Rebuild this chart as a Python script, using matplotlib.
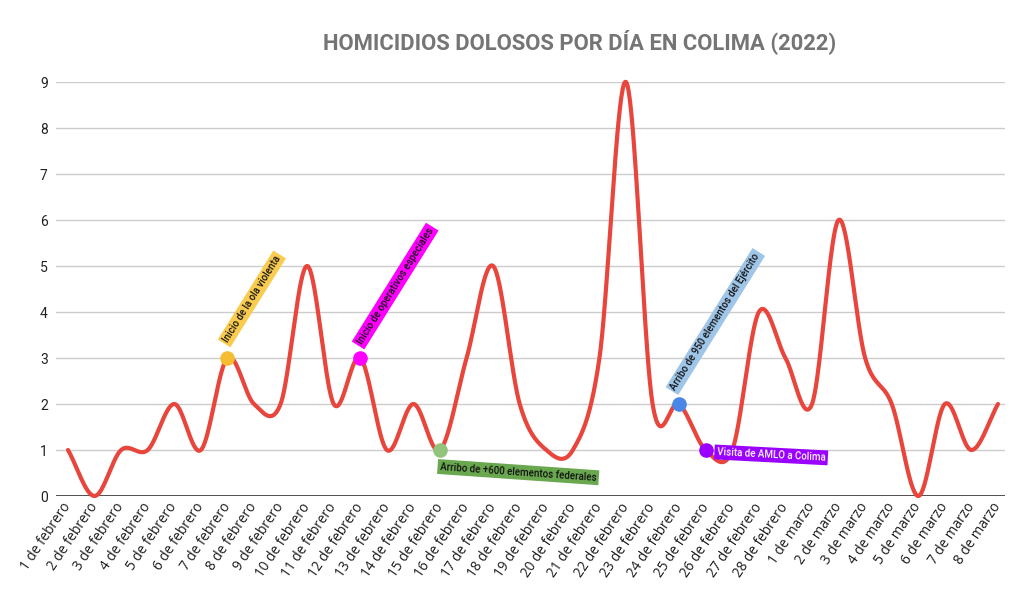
import numpy as np
import matplotlib
matplotlib.use("Agg")
import matplotlib.pyplot as plt
import matplotlib.transforms as mtransforms

plt.rcParams['font.family'] = ['Roboto', 'DejaVu Sans']

# ---- data ----
dates = ([f"{d} de febrero" for d in range(1, 29)] +
         [f"{d} de marzo" for d in range(1, 9)])
homicidios = [1, 0, 1, 1, 2, 1, 3, 2, 2, 5, 2, 3, 1, 2, 1, 3, 5, 2,
              1, 1, 3, 9, 2, 2, 1, 1, 4, 3, 2, 6, 3, 2, 0, 2, 1, 2]
yticks = list(range(0, 10))
title = "HOMICIDIOS DOLOSOS POR DÍA EN COLIMA (2022)"

event_labels = ["Inicio de la ola violenta",
                "Inicio de operativos especiales",
                "Arribo de +600 elementos federales",
                "Arribo de 950 elementos del Ejército",
                "Visita de AMLO a Colima"]
event_dates = ["7 de febrero", "12 de febrero", "15 de febrero",
               "24 de febrero", "25 de febrero"]
event_dot_colors = ["#f6bd33", "#ff00ff", "#93c47d", "#4a86e8", "#9900ff"]
event_box_colors = ["#f9cb4f", "#ff00ff", "#6aa84f", "#9fc5e8", "#9900ff"]
event_text_colors = ["#111111", "#111111", "#111111", "#111111", "#ffffff"]
event_rot = [58, 58, -4, 58, -3]
event_offsets = [(-1.5, 12), (-0.7, 10.5), (0, -12), (-4.3, 10.8), (8, -1.5)]


def catmull_rom(y, n=40):
    y = np.asarray(y, float)
    N = len(y)
    m = np.zeros(N)
    m[1:-1] = (y[2:] - y[:-2]) / 2.0
    m[0] = y[1] - y[0]
    m[-1] = y[-1] - y[-2]
    xs, ys = [], []
    for i in range(N - 1):
        t = np.linspace(0, 1, n, endpoint=False)
        h00 = 2 * t**3 - 3 * t**2 + 1
        h10 = t**3 - 2 * t**2 + t
        h01 = -2 * t**3 + 3 * t**2
        h11 = t**3 - t**2
        ys.append(h00 * y[i] + h10 * m[i] + h01 * y[i + 1] + h11 * m[i + 1])
        xs.append(i + t)
    xs.append(np.array([N - 1.0]))
    ys.append(np.array([y[-1]]))
    return np.concatenate(xs), np.concatenate(ys)


fig = plt.figure(figsize=(10.33, 5.95), dpi=100)
W, H = 1033, 595
ax = fig.add_axes([56 / W, 1 - 496 / H, (1005 - 56) / W, (496 - 82) / H])

x = np.arange(len(dates))
sx, sy = catmull_rom(homicidios)
ax.plot(sx, sy, color="#e8453c", lw=3.0, solid_capstyle="round", clip_on=False, zorder=3)

ax.set_xlim(-0.4516, 35.263)
ax.set_ylim(0, 9)
ax.set_yticks(yticks)
ax.set_yticklabels([str(v) for v in yticks], fontsize=10, color="#222222")
ax.set_xticks(x)
ax.set_xticklabels(dates, rotation=56, ha="right", va="center",
                   rotation_mode="anchor", fontsize=9.8, color="#1a1a1a",
                   family=["Open Sans", "DejaVu Sans"])
offset = mtransforms.ScaledTranslation(16 / 100, -1 / 100, fig.dpi_scale_trans)
for lab in ax.get_xticklabels():
    lab.set_transform(lab.get_transform() + offset)

ax.tick_params(axis="both", length=0)
ax.tick_params(axis="y", pad=6)
ax.tick_params(axis="x", pad=6)
for s in ax.spines.values():
    s.set_visible(False)
ax.grid(axis="y", color="#cccccc", lw=1)
ax.axhline(0, color="#333333", lw=1.2, zorder=2)

for lbl, d, dc, bc, tc, rot, off in zip(event_labels, event_dates, event_dot_colors,
                                        event_box_colors, event_text_colors,
                                        event_rot, event_offsets):
    i = dates.index(d)
    v = homicidios[i]
    ax.plot([i], [v], "o", ms=9.5, color=dc, zorder=5, clip_on=False)
    ax.annotate(lbl, xy=(i, v), xytext=off, textcoords="offset points",
                rotation=rot, rotation_mode="anchor", ha="left", va="center",
                fontsize=7, color=tc, fontweight="medium", zorder=6,
                bbox=dict(boxstyle="square,pad=0.25", fc=bc, ec="none"))

fig.text(580 / W, 1 - 42 / H, title, ha="center", va="center",
         fontsize=15.8, fontweight="bold", color="#757575")

fig.savefig("out.png", dpi=100)
